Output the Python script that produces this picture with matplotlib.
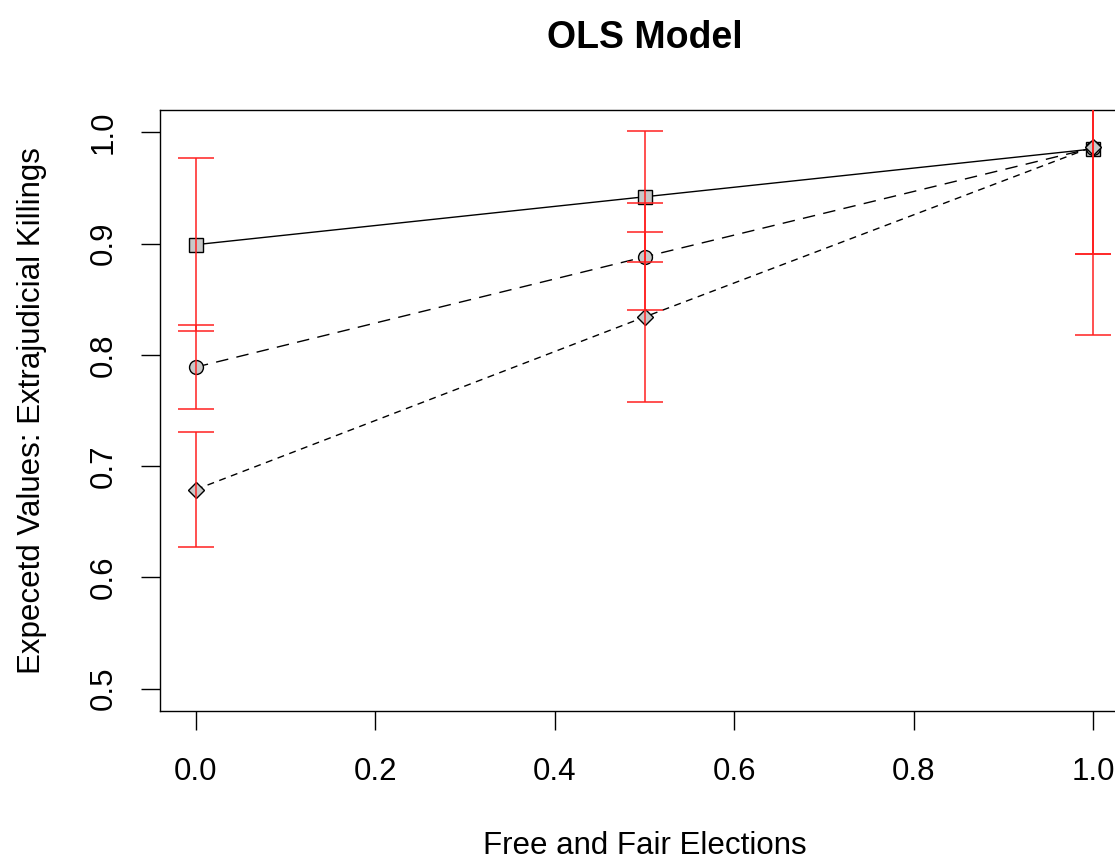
import numpy as np
import matplotlib.pyplot as plt

plt.rcParams['font.family'] = ['Liberation Sans', 'DejaVu Sans']

# 自由选举水平
elections = [0.0, 0.5, 1.0]

# 三组预测值及误差
ev_square = [0.899, 0.942, 0.985]
ev_circle = [0.789, 0.888, 0.986]
ev_diamond = [0.679, 0.834, 0.987]

err_square = [0.078, 0.059, 0.094]
err_circle = [0.038, 0.048, 0.168]
err_diamond = [0.052, 0.076, 0.096]

x_ticks = [0.0, 0.2, 0.4, 0.6, 0.8, 1.0]
y_ticks = [0.5, 0.6, 0.7, 0.8, 0.9, 1.0]

fig = plt.figure(figsize=(11.15, 8.59), dpi=100)
ax = fig.add_axes([160 / 1115, 148 / 859, 969 / 1115, 601 / 859])

# 折线 + 点
ax.plot(elections, ev_square, color='black', lw=1.0, ls='-',
        marker='s', ms=9.5, mfc='#c8c8c8', mec='black', mew=1.0, zorder=2)
ax.plot(elections, ev_circle, color='black', lw=1.0, ls=(0, (9, 6)),
        marker='o', ms=10, mfc='#c8c8c8', mec='black', mew=1.0, zorder=2)
ax.plot(elections, ev_diamond, color='black', lw=1.0, ls=(0, (5, 4)),
        marker='D', ms=8.5, mfc='#c8c8c8', mec='black', mew=1.0, zorder=2)

# 误差线
for vals, errs in [(ev_square, err_square), (ev_circle, err_circle), (ev_diamond, err_diamond)]:
    ax.errorbar(elections, vals, yerr=errs, fmt='none', ecolor='#ff2020',
                elinewidth=1.1, capsize=13.3, capthick=1.1, zorder=3)

ax.set_xlim(-0.04, 1.04)
ax.set_ylim(0.48, 1.02)
ax.set_xticks(x_ticks)
ax.set_xticklabels(['%.1f' % v for v in x_ticks])
ax.set_yticks(y_ticks)
ax.set_yticklabels(['%.1f' % v for v in y_ticks], rotation=90, va='center')

ax.tick_params(axis='both', direction='out', length=14, width=1.0,
               labelsize=22.5, color='black')
ax.tick_params(axis='x', pad=19)
ax.tick_params(axis='y', pad=16)
for sp in ax.spines.values():
    sp.set_linewidth(1.0)
    sp.set_color('black')

ax.set_xlabel('Free and Fair Elections', fontsize=22.5)
ax.xaxis.set_label_coords(0.5, -0.2)
ax.set_ylabel('Expecetd Values: Extrajudicial Killings', fontsize=22.5)
ax.yaxis.set_label_coords(-0.117, 0.5)
ax.set_title('OLS Model', fontsize=27, fontweight='bold', pad=45)

fig.savefig('out.png', dpi=100)
